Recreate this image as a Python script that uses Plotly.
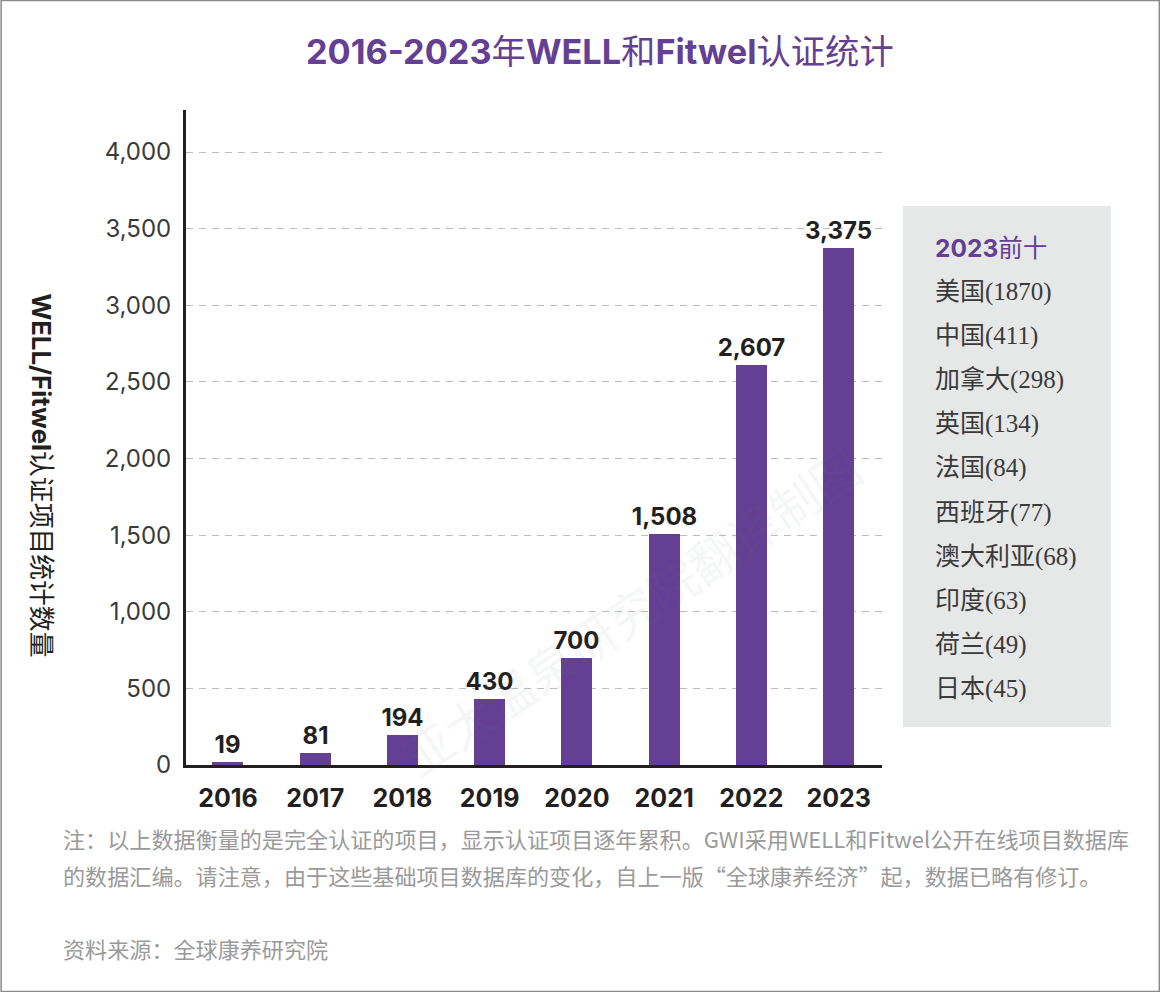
import plotly.graph_objects as go

years = [2016, 2017, 2018, 2019, 2020, 2021, 2022, 2023]
counts = [19, 81, 194, 430, 700, 1508, 2607, 3375]
y_ticks = [0, 500, 1000, 1500, 2000, 2500, 3000, 3500, 4000]
top_countries = ["美国", "中国", "加拿大", "英国", "法国", "西班牙", "澳大利亚", "印度", "荷兰", "日本"]
top_counts = [1870, 411, 298, 134, 84, 77, 68, 63, 49, 45]

W, H = 1160, 992
PURPLE = "#643f93"
DARK = "#231f20"
GREY = "#9a9a9a"
LATIN = "Inter, 'Noto Sans CJK SC', sans-serif"
CJK = "'Noto Sans CJK SC', sans-serif"
SERIF = "'Liberation Serif', 'Noto Sans CJK SC', serif"
L, R, T, B = 185.5, 882, 110, 765


def px(x):
    return (x - L) / (R - L)


def py(y):
    return (B - y) / (B - T)


def note(x, y, text, size, color, font=CJK, anchor="left", angle=0, yanchor="middle"):
    return dict(xref="paper", yref="paper", x=px(x), y=py(y), text=text, showarrow=False,
                xanchor=anchor, yanchor=yanchor, textangle=angle,
                font=dict(size=size, color=color, family=font))


fig = go.Figure(go.Bar(
    x=years, y=counts, width=0.355, marker=dict(color=PURPLE, line=dict(width=0)),
    texttemplate="<b>%{y:,}</b>", textposition="outside", cliponaxis=False, constraintext="none",
    textangle=0, textfont=dict(size=24, color=DARK, family=LATIN),
))

annotations = [
    note(600, 52, "<b>2016-2023</b>年<b>WELL</b>和<b>Fitwel</b>认证统计", 34.3, PURPLE, LATIN, "center"),
    note(40, 475, "<b>WELL/Fitwel</b>认证项目统计数量", 25.8, DARK, LATIN, "center", 90),
    note(933.5, 248, "<b>2023</b>前十", 24.5, PURPLE, LATIN),
    note(60, 838, "注：以上数据衡量的是完全认证的项目，显示认证项目逐年累积。GWI采用WELL和Fitwel公开在线项目数据库", 22.1, GREY),
    note(60, 875, "的数据汇编。请注意，由于这些基础项目数据库的变化，自上一版“全球康养经济”起，数据已略有修订。", 22.1, GREY),
    note(60, 948, "资料来源：全球康养研究院", 22.1, GREY),
    note(630, 610, "亚太温泉研究院翻译制图", 49, "rgba(120,130,125,0.07)", CJK, "center", -34),
]
for i, (c, v) in enumerate(zip(top_countries, top_counts)):
    annotations.append(note(933.5, 292 + 44.1 * i, f"{c}({v})", 25, "#3a3a3a", SERIF))

shapes = [
    dict(type="rect", xref="paper", yref="paper", x0=px(903), x1=px(1111), y0=py(727), y1=py(206),
         fillcolor="#e6e8e8", line=dict(width=0), layer="below"),
    dict(type="rect", xref="paper", yref="paper", x0=px(0.5), x1=px(W - 0.5), y0=py(H - 0.5), y1=py(0.5),
         fillcolor="rgba(0,0,0,0)", line=dict(color="#8a8a8a", width=1.5), layer="above"),
]

slot = 87.3
x0 = 2016 + (L - 227.5) / slot
x1 = 2016 + (R - 227.5) / slot
ymax = (B - T) / 0.15325

fig.update_layout(
    width=W, height=H, autosize=False, showlegend=False, bargap=0,
    paper_bgcolor="white", plot_bgcolor="rgba(0,0,0,0)",
    margin=dict(l=L, r=W - R, t=T, b=H - B, pad=0),
    annotations=annotations, shapes=shapes,
    xaxis=dict(range=[x0, x1], tickmode="array", tickvals=years, ticktext=[f"<b>{y}</b>" for y in years],
               tickfont=dict(size=25, color=DARK, family=LATIN), ticks="outside", ticklen=9,
               tickcolor="rgba(0,0,0,0)", showgrid=False,
               showline=True, linecolor=DARK, linewidth=3, zeroline=False, mirror=False),
    yaxis=dict(range=[0, ymax], tickmode="array", tickvals=y_ticks, tickformat=",",
               tickfont=dict(size=24, color="#3a3a3a", family=LATIN), ticks="outside", ticklen=7,
               tickcolor="rgba(0,0,0,0)", showgrid=True, gridcolor="#bcbcbc", griddash="7px,6px", gridwidth=1,
               showline=True, linecolor=DARK, linewidth=3, zeroline=False, mirror=False),
)

fig.write_html("out.html", config={"displayModeBar": False},
               post_script="document.body.style.margin='0';document.body.style.overflow='hidden';")
